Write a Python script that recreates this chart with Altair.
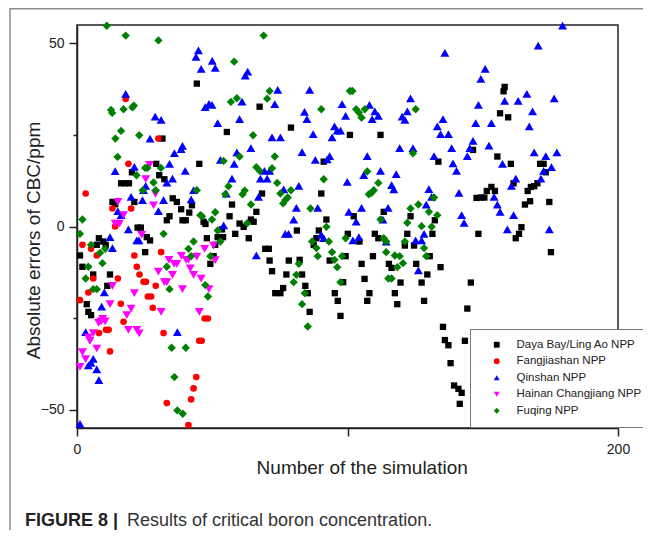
import altair as alt
import pandas as pd

series_names = ["Daya Bay/Ling Ao NPP", "Fangjiashan NPP", "Qinshan NPP",
                "Hainan Changjiang NPP", "Fuqing NPP"]
series_colors = ["#000000", "#ff0000", "#0000ff", "#ff00ff", "#008000"]
series_shapes = ["square", "circle", "triangle-up", "triangle-down", "diamond"]
series_sizes = [40, 44, 80, 80, 70]

x_ticks = [0, 100, 200]
y_ticks = [-50, -25, 0, 25, 50]

daya = [
    [1.1, -7.9], [2.0, -11], [3.6, -21.2], [4.2, -23.3], [5.2, -24.2], [6.0, -13.1], [7.3, -5],
    [8.1, -3.2], [9.7, -4.1], [10.6, -5], [11.2, -16.2], [12.2, -13.1], [13.1, 6.7], [14.1, 6.1],
    [16.3, 11.8], [17.8, 11.8], [19.2, 11.8], [20.3, 14.8], [21.2, 6.7], [22.4, -0.3], [23.6, -0.3],
    [25.2, -7], [25.8, -2.9], [27.0, -3.8], [29.3, 17.1], [30.4, 14], [31.6, 24], [32.3, 12.9],
    [33.2, 1.7], [34.2, 2.8], [35.4, 7.7], [36.9, 6.7], [38.5, 4.7], [39.0, 1.7], [40.2, 1.7],
    [41.5, 3.8], [42.5, 5.8], [44.3, 39], [45.2, 17.1], [46.8, 1.3], [47.5, 0.7], [48.0, -3.2],
    [49.3, -10.2], [50.5, -8.1], [51.1, -5], [52.0, -2.9], [53.6, -0.8], [54.0, -2.9],
    [55.4, 25.8], [56.4, 2.8], [57.3, 6], [58.5, -2], [60.1, 0.8], [61.6, -0.1], [63.5, -3.2],
    [64.3, 1.9], [65.3, 1.3], [66.3, 4], [67.5, 32.7], [68.4, 9], [69.6, -6.1], [70.9, -6.1],
    [71.2, -9.3], [72.1, -12.2], [73.3, -18.2], [75.2, -18.2], [76.2, -16.8], [77.4, -13.1],
    [78.3, -9.3], [79.1, 27], [81.3, -1.1], [82.3, -9.1], [83.2, -13.1], [84.4, -16.2],
    [85.3, -18.2], [86.0, -23.3], [87.5, -5], [88.5, -3.2], [89.4, -1.1], [90.3, 9], [91.2, 17.7],
    [92.2, 1.9], [93.4, -9.3], [95.3, -18.2], [96.4, -20.3], [97.4, -24.4], [98.4, -15.2],
    [99.3, -8.1], [100.1, -2], [100.9, 25], [102.3, 2.8], [104.4, -4.1], [105.2, -10.2],
    [106.3, -14.3], [107.3, -20.3], [108.1, -18.2], [109.4, -8.1], [110.1, -2], [111.4, -3.2],
    [112.2, 25], [113.4, 4], [115.3, -10.2], [116.3, -11.3], [117.5, -18.2], [118.4, -21.2],
    [119.6, -15.3], [121.2, -5.2], [122.1, -2], [123.3, 2.8], [124.6, -5.2], [125.4, -10.2],
    [127.4, -15.3], [128.3, -20.3], [129.5, -13.1], [130.4, -8.1], [131.4, -2], [132.3, 1.7],
    [133.6, 17.7], [134.4, -11.1], [135.3, -27.4], [136.0, -31], [137.3, -32.4], [138.1, -37.3],
    [139.4, -43.4], [141.0, -44.3], [142.2, -45.4], [141.5, -48.4], [143.4, -31.2], [144.3, -22.4],
    [145.6, -15.3], [146.4, 20.9], [147.7, 7.8], [148.4, -2], [149.3, 7.9], [150.6, 7.9],
    [151.5, 9.7], [153.2, 10.8], [154.5, 9.7], [155.4, 19.1], [156.4, 30.9], [157.7, 36.9],
    [158.1, 38.1], [159.4, 29.8], [160.4, 17.1], [161.4, 11.8], [162.2, -3.2], [163.4, -2],
    [164.3, -0.2], [165.6, 6], [166.6, 9.7], [167.5, 6.9], [167.8, 10.8], [169.0, 11],
    [170.2, 11.8], [171.2, 17.1], [172.5, 17.1], [173.3, 14.8], [174.6, 6.7], [175.2, -7],
]

fangjiashan = [
    [1.1, -20.1], [2.0, -5], [3.2, 9], [4.2, -18], [5.2, -6.1], [6.0, -14.2], [7.3, -7.9],
    [8.1, -29.1], [10.7, -28.2], [11.7, -28.2], [12.2, -34.1], [13.1, 4.9], [14.1, 0],
    [15.1, -14.2], [16.2, -21.1], [17.2, -26], [18.0, 34.8], [19.0, 17.1], [20.0, 4.9],
    [21.2, -7.9], [22.1, -11], [23.1, -13.1], [24.6, -15.1], [25.5, -15.1], [26.2, -19.1],
    [27.4, -19.1], [28.0, -22.2], [29.1, -16.2], [30.1, 24], [31.1, -7], [32.0, -29.1],
    [33.2, -48.2], [41.2, -54.2], [42.2, -47.2], [43.1, -44.2], [44.1, -41.1], [45.2, -31.2],
    [46.1, -31.2], [47.2, -25.1], [48.4, -25.1],
]

qinshan = [
    [1.1, -53.9], [3.2, -28.8], [4.2, -37.9], [5.2, -37.2], [6.0, -36.1], [7.3, -39], [8.1, -41.9],
    [9.1, -21.9], [10.1, -18], [12.2, -2.9], [13.1, -5.9], [14.1, 15.1], [15.1, 4.2], [16.3, 3.1],
    [18.0, 36.2], [19.0, -0.8], [20.0, 8.1], [21.2, 16.3], [22.1, -3.8], [22.9, -3.8], [24.2, 7.2],
    [24.6, 9.9], [25.4, 11.1], [27.0, 24], [28.9, 30], [30.1, 4.2], [31.1, 29.1], [32.0, 7.2],
    [33.2, 12], [34.2, 17.1], [35.3, 13.1], [36.0, 20], [37.1, -28.8], [38.5, 21.1], [39.0, 22],
    [40.0, 15.2], [42.2, 7.4], [43.1, 9.9], [44.0, 46.3], [44.9, 48.1], [45.9, 43], [47.4, 32.6],
    [48.8, 33.5], [50.0, 45.2], [49.9, 33.2], [51.1, 43.3], [52.0, 28.2], [53.0, 18.2],
    [54.2, 0.3], [55.2, 9], [57.3, 13.1], [58.1, 17.1], [59.1, 20.2], [60.1, 29.3], [61.0, 34.1],
    [62.2, 41.2], [63.1, 42.3], [64.3, 21.4], [66.3, -7.9], [67.1, 8.1], [67.8, 13.1],
    [69.3, 15.2], [70.3, 13.1], [71.2, 15.2], [72.1, 24.3], [73.1, 33.4], [74.2, 37.3],
    [75.2, 24.3], [76.4, 10.1], [77.0, -2], [78.2, -2], [80.1, 1.9], [81.1, 5.1], [82.0, 11.1],
    [83.2, 20.3], [84.1, 31.3], [85.0, 29.3], [86.0, 37.3], [87.3, 25.2], [88.1, 18.2],
    [89.0, 5.1], [90.3, -2.3], [91.2, -3.2], [92.5, 18.3], [93.4, 19.2], [94.3, 24.3],
    [95.2, 27.3], [96.2, 26.2], [97.4, 26.2], [98.0, 33.4], [99.3, 30.2], [99.9, 12.2],
    [100.5, 4], [102.0, -3.8], [103.2, 1.3], [104.2, -2.9], [105.2, 5.1], [106.0, 14],
    [107.3, 19.2], [108.1, 33.2], [109.1, 29.3], [110.1, 31.4], [111.4, 30.2], [112.2, 15.2],
    [113.1, 1.9], [114.3, -4.1], [115.0, 5.1], [116.3, 11.3], [117.1, 10.1], [118.0, 14.3],
    [119.3, 21.4], [120.2, 30], [121.2, 29.1], [122.1, 31.4], [123.3, 35], [124.2, 21.4],
    [125.2, -3.8], [126.2, -12], [127.4, -3.8], [128.3, -2], [129.1, 6], [130.1, 10.2],
    [131.1, 8.1], [132.0, 19.2], [133.2, 27.3], [134.4, 25.2], [135.3, 29.3], [136.0, 47.4],
    [137.3, 25.2], [138.5, 21.4], [139.0, 17.2], [140.3, 15.2], [141.2, 9.2], [142.2, 3.1],
    [143.1, 1], [144.3, 19.2], [145.2, 21.4], [146.4, 23.4], [147.4, 28.2], [148.4, 33.2],
    [149.3, 40.3], [150.9, 43], [152.3, 22.1], [153.2, 28.2], [154.2, 8.1], [155.4, 6],
    [156.4, 4], [157.3, 17.1], [158.1, 34.3], [159.1, -0.8], [160.6, 11.1], [161.4, 3.1],
    [162.2, 13.1], [163.1, 34.3], [166.3, 36.2], [167.2, 27.3], [168.4, 31.4], [169.0, 20.2],
    [170.5, 49.4], [171.5, 13.1], [172.5, 15.2], [173.3, 19.2], [174.6, -0.8], [175.4, 16.2],
    [176.4, 35], [177.4, 20.2], [179.5, 54.8],
]

hainan = [
    [1.1, -38.3], [2.0, -34.3], [3.2, -36.2], [4.2, -30.3], [4.8, -31.2], [6.0, -29.1],
    [7.3, -33.3], [8.0, -26.3], [8.9, -25.9], [9.5, -25.2], [10.4, -25.9], [12.2, -21.2],
    [13.1, -16.2], [14.1, 0.8], [15.1, 6.7], [15.7, 0.8], [17.2, 3.1], [18.4, -24.2],
    [19.0, -28.2], [20.0, -22.4], [21.2, -18.2], [22.1, -28.2], [23.0, -29.2], [23.9, -2.3],
    [25.4, 12.9], [26.8, 16.8], [28.3, 5.8], [29.0, 8.9], [30.1, -12.3], [31.1, -23.3],
    [32.3, -15.2], [33.2, -15.2], [34.0, -9.1], [35.3, -13.2], [35.9, -10.2], [36.9, -10.2],
    [38.6, -8.0], [39.0, -17.1], [40.3, -9.1], [41.2, -9.1], [41.9, -11.4], [43.1, -13.2],
    [44.3, -8.2], [45.2, -23.3], [45.9, -14.2], [47.2, -6.1], [48.8, -17.1], [50.5, -5.2],
    [51.1, -9.2],
]

fuqing = [
    [1.1, -2], [2.0, 1.9], [3.2, -14.2], [4.2, -11], [5.2, -5], [6.0, -17.1], [7.3, -17.1],
    [8.5, -7.2], [9.4, -10], [10.4, -6.1], [11.0, 54.8], [12.6, 31.8], [13.0, 31], [14.2, 24],
    [15.0, 19], [16.3, 26.1], [17.2, 32], [18.0, 52.1], [20.5, 32.5], [21.0, 33], [22.0, 14],
    [23.0, 24.9], [24.3, 9.9], [25.2, 16], [26.0, 16], [28.3, 12], [29.1, 9.9], [30.1, 50.8],
    [31.0, 16], [32.0, -2], [33.2, -11], [34.2, -17.1], [35.0, -33.1], [36.0, -41.1],
    [37.1, -50.2], [39.1, -51.1], [40.2, -33.1], [41.2, -6.1], [42.2, -8.1], [43.1, -4.1],
    [44.3, 9.9], [45.6, 3.1], [46.2, 2.8], [47.4, -16], [48.4, -19.1], [49.3, -8.1], [49.9, 1.9],
    [51.1, 3.9], [52.0, -1.1], [53.0, -4.1], [54.2, 17.9], [54.8, 8.8], [56.0, 11], [56.9, 34],
    [58.1, 45], [59.1, 35], [60.1, 19.1], [61.2, 8.8], [62.0, 9.8], [62.9, 0.9], [64.3, 6],
    [65.1, 24.9], [66.3, 16.2], [67.5, 15.2], [69.0, 52.1], [70.3, 34.9], [71.2, 37],
    [72.1, 15.9], [73.1, 19.1], [74.0, 11.9], [75.2, 9], [76.2, 6.3], [77.0, 7.2], [77.9, 7.9],
    [79.1, 9.9], [80.1, -15.2], [81.1, -13.2], [82.0, -10.2], [83.2, -21.2], [84.2, -18.2],
    [85.3, -27.3], [86.3, 4.9], [86.9, -4.1], [88.5, -5.9], [89.0, -8.1], [90.3, 32],
    [91.2, 12.9], [92.2, -0.1], [93.1, -4.1], [94.3, -7], [95.2, -9.1], [96.2, -11.1],
    [97.4, -15.2], [98.0, -8.1], [99.3, -3.2], [100.9, 37], [101.8, 37], [103.2, 32],
    [104.2, 31.1], [105.2, 29.7], [106.4, 32], [107.3, 15], [107.9, 8.8], [108.9, 9.2],
    [109.7, 9.9], [111.4, 11.9], [112.2, 1.9], [113.4, -3.2], [114.3, -4.1], [114.3, -7],
    [115.1, -14.2], [116.3, -14.2], [117.5, -7.9], [118.4, -11.1], [119.3, -8.1], [120.5, -10],
    [121.2, -4.1], [122.1, 1], [123.3, 4.9], [124.2, 20], [125.2, 32], [126.2, 6], [127.4, 0.1],
    [128.3, -5.9], [129.1, -8.1], [130.1, 4], [131.1, -0.1], [132.0, 7.9], [133.2, 3.1],
]

rows = []
for name, pts in zip(series_names, [daya, fangjiashan, qinshan, hainan, fuqing]):
    for px, py in pts:
        rows.append({"series": name, "sim": px, "err": py})
df = pd.DataFrame(rows)
one = pd.DataFrame({"k": [0]})

FONT = "Liberation Sans"

legend = alt.Legend(
    title=None, orient="none", legendX=393, legendY=304,
    strokeColor="#777777", fillColor="#ffffff", padding=10,
    symbolOffset=11, labelOffset=14, rowPadding=3.5, symbolSize=34,
    labelFont=FONT, labelFontSize=11.5, labelColor="#222222",
    symbolStrokeWidth=0,
)

x_axis = alt.Axis(
    values=x_ticks, labelExpr="datum.value == 100 ? '' : datum.label", labelFlush=False,
    tickSize={"condition": {"test": "datum.value % 100 === 0", "value": 8}, "value": 4},
    labelPadding=6, labelFontSize=14, labelFont=FONT, labelColor="#222222",
    titleFont=FONT, titleFontSize=19, titleFontWeight="normal", titleColor="#222222",
    titleX=284.7, titleY=45, titleBaseline="alphabetic", titleAlign="center",
    grid=False, domainColor="#222222", domainWidth=1.5, tickColor="#222222", tickWidth=1.5,
)
y_axis = alt.Axis(
    values=y_ticks, labelExpr="abs(datum.value) == 25 ? '' : datum.label", labelFlush=False,
    tickSize={"condition": {"test": "datum.value % 50 === 0", "value": 8}, "value": 4},
    labelPadding=5, labelFontSize=14, labelFont=FONT, labelColor="#222222",
    titleFont=FONT, titleFontSize=19, titleFontWeight="normal", titleColor="#222222",
    titleX=-37.5, titleY=215, titleAngle=270, titleBaseline="alphabetic", titleAlign="center",
    grid=False, domainColor="#222222", domainWidth=1.5, tickColor="#222222", tickWidth=1.5,
)

x_enc = alt.X("sim:Q", scale=alt.Scale(domain=[0, 200], nice=False, zero=False),
              axis=x_axis, title="Number of the simulation")
y_enc = alt.Y("err:Q", scale=alt.Scale(domain=[-55, 55], nice=False, zero=False),
              axis=y_axis, title="Absolute errors of CBC/ppm")
color_enc = alt.Color("series:N", scale=alt.Scale(domain=series_names, range=series_colors),
                      legend=legend)
shape_enc = alt.Shape("series:N", scale=alt.Scale(domain=series_names, range=series_shapes),
                      legend=legend)

point_layers = []
for name, sz in zip(series_names, series_sizes):
    point_layers.append(
        alt.Chart(df).transform_filter(alt.datum.series == name)
        .mark_point(filled=True, opacity=1, strokeWidth=0, size=sz)
        .encode(x=x_enc, y=y_enc, color=color_enc, shape=shape_enc)
    )

frame_top = alt.Chart(one).mark_rule(color="#8c8c8c", strokeWidth=1.5).encode(
    x=alt.value(-67), x2=alt.value(580), y=alt.value(-16.3))
frame_left = alt.Chart(one).mark_rule(color="#8c8c8c", strokeWidth=1.5).encode(
    x=alt.value(-67), y=alt.value(-17), y2=alt.value(520))

cap_bold = alt.Chart(one).mark_text(
    text="FIGURE 8 |", align="left", baseline="alphabetic", font=FONT,
    fontSize=18, fontWeight="bold", color="#222222").encode(
    x=alt.value(-52), y=alt.value(501))
cap_text = alt.Chart(one).mark_text(
    text="Results of critical boron concentration.", align="left", baseline="alphabetic",
    font=FONT, fontSize=18, color="#333333").encode(
    x=alt.value(50), y=alt.value(501))

chart = alt.layer(frame_top, frame_left, *point_layers, cap_bold, cap_text).properties(
    width=541, height=403,
    padding={"left": 69, "top": 17, "right": 25, "bottom": 102},
    autosize=alt.AutoSizeParams(type="none"),
    background="#ffffff",
).configure_view(stroke="#222222", strokeWidth=1.5)

chart.save("out.html", embed_options={"renderer": "svg", "actions": False})
